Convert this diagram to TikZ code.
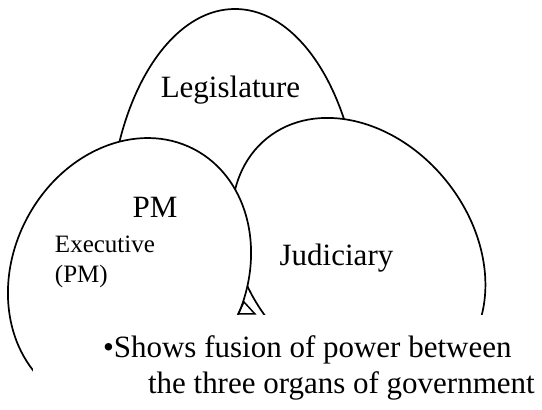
\documentclass[tikz,border=0pt]{standalone}
\usepackage{fontspec}
\setmainfont{Liberation Serif}
\usetikzlibrary{shapes.geometric}
\begin{document}
\begin{tikzpicture}[x=1pt,y=1pt,
  organ/.style={ellipse, draw=black, fill=white, line width=1.7pt, inner sep=0pt, outer sep=0pt},
  bigtext/.style={font=\fontsize{31}{37}\selectfont, inner sep=0pt, outer sep=0pt},
  smalltext/.style={font=\fontsize{25}{30}\selectfont, inner sep=0pt, outer sep=0pt},
  coverbox/.style={fill=white, draw=none}]
\useasboundingbox (0,0) rectangle (542,410);
\clip (0,0) rectangle (542,410);
% three organs
\node[organ, minimum width=252pt, minimum height=442pt] (leg) at (235,180) {};
\node[organ, minimum width=226pt, minimum height=292pt, rotate=38.7] (jud) at (358.5,158) {};
\node[organ, minimum width=232.4pt, minimum height=279.2pt, rotate=-27.5] (exe) at (129.5,137) {};
% labels
\node[bigtext, anchor=base] (legl) at (230.5,312.5) {Legislature};
\node[bigtext, anchor=base] (pml) at (155,192) {PM};
\node[smalltext, anchor=base west, align=left] (exel) at (55,157) {Executive};
\node[smalltext, anchor=base west] (exel2) at (55,127) {(PM)};
\node[bigtext, anchor=base] (judl) at (336.5,144) {Judiciary};
% white text box at the bottom
\path[coverbox] (33,-2) rectangle (544,95);
\draw[line width=1.5pt, line join=miter] (244,108) -- (238,96) -- (255,96) -- cycle;
\node[bigtext, anchor=base west] (note1) at (103,52) {•Shows fusion of power between};
\node[bigtext, anchor=base west] (note2) at (148,16) {the three organs of government};
\end{tikzpicture}
\end{document}
